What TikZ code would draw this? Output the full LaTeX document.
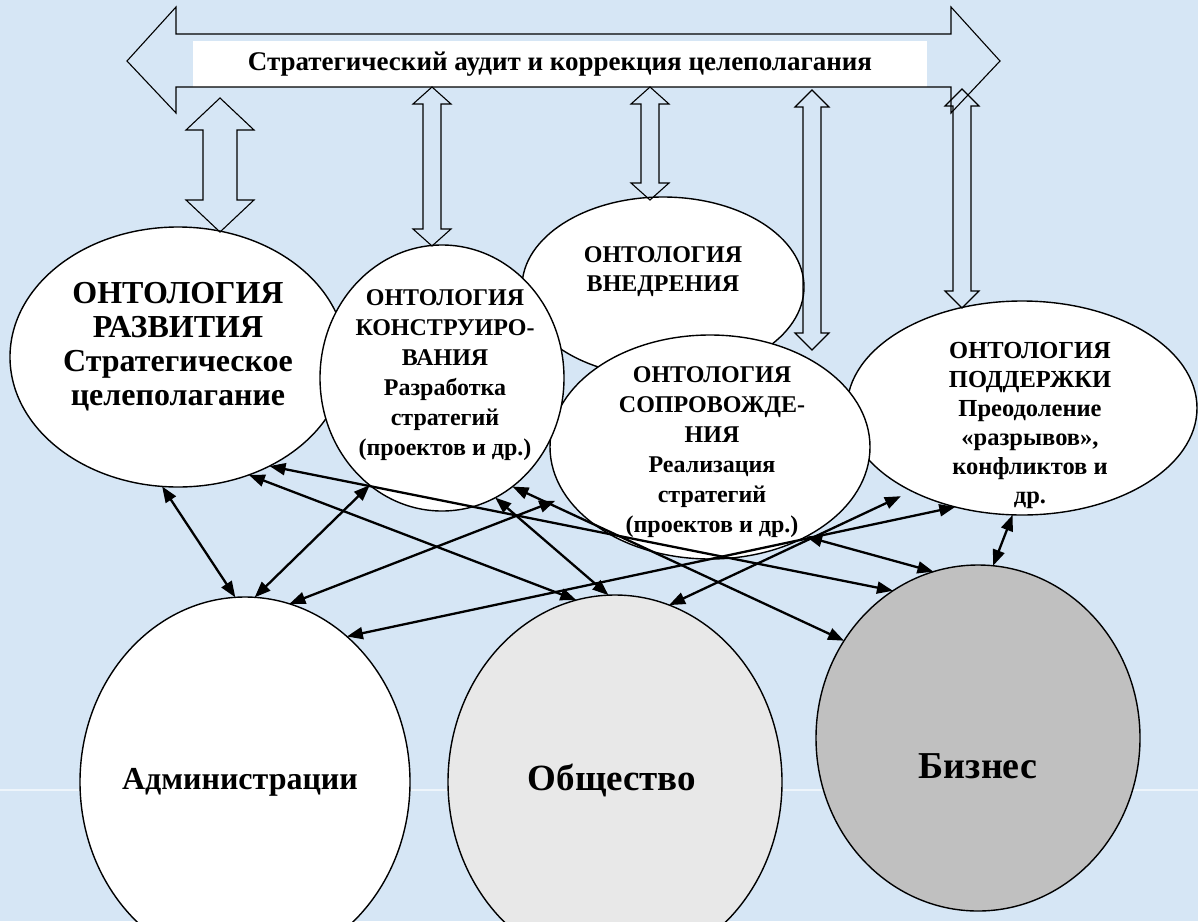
\documentclass[tikz,border=0pt]{standalone}
\usepackage{fontspec}
\setmainfont{Liberation Serif}
\usetikzlibrary{shapes.geometric,arrows.meta}
\definecolor{slide}{RGB}{214,230,245}
\definecolor{society}{RGB}{232,232,232}
\definecolor{business}{RGB}{192,192,192}

\begin{document}
\begin{tikzpicture}[x=1pt,y=-1pt,
  onto/.style={ellipse,draw,line width=1.4pt,fill=white,inner sep=0pt,outer sep=0pt},
  ontext/.style={align=center,font=\bfseries\fontsize{24}{30}\selectfont},
  blockarrow/.style={draw,line width=1.1pt,line join=miter},
  link/.style={line width=2.3pt},
  >={Triangle[length=16pt,width=12pt]}]
\useasboundingbox (0,0) rectangle (1198,921);
\fill[slide] (0,0) rectangle (1198,921);
\draw[white,line width=1.5pt,opacity=.6] (0,790) -- (1198,790);

\node[fill=white,minimum width=734pt,minimum height=46pt,inner sep=0pt,
  font=\bfseries\fontsize{27}{30}\selectfont] (audit) at (560,64)
  {Стратегический аудит и коррекция целеполагания};
\draw[blockarrow] (127,61) -- (176,7) -- (176,34) -- (951,34) -- (951,7) -- (1000,61)
  -- (951,113) -- (951,87) -- (176,87) -- (176,113) -- cycle;

\node[onto,minimum width=336pt,minimum height=260pt] (razv) at (178,357) {};
\node[onto,minimum width=350pt,minimum height=214pt] (podd) at (1022,408) {};
\node[onto,minimum width=282pt,minimum height=180pt] (vnedr) at (663,287) {};
\node[onto,minimum width=320pt,minimum height=224pt] (sopr) at (710,447) {};
\node[onto,minimum width=244pt,minimum height=266pt] (konstr) at (442,378) {};

\node[ontext,font=\bfseries\fontsize{32}{34}\selectfont] (razvT) at (178,347)
  {ОНТОЛОГИЯ\\РАЗВИТИЯ\\Стратегическое\\целеполагание};
\node[ontext] (konstrT) at (445,375)
  {ОНТОЛОГИЯ\\КОНСТРУИРО-\\ВАНИЯ\\Разработка\\стратегий\\(проектов и др.)};
\node[ontext,font=\bfseries\fontsize{24}{29}\selectfont] (vnedrT) at (663,272)
  {ОНТОЛОГИЯ\\ВНЕДРЕНИЯ};
\node[ontext] (soprT) at (712,452)
  {ОНТОЛОГИЯ\\СОПРОВОЖДЕ-\\НИЯ\\Реализация\\стратегий\\(проектов и др.)};
\node[ontext,font=\bfseries\fontsize{24.5}{29}\selectfont] (poddT) at (1030,425)
  {ОНТОЛОГИЯ\\ПОДДЕРЖКИ\\Преодоление\\«разрывов»,\\конфликтов и\\др.};

\foreach \x/\ya/\yb/\s/\h/\l in {220/98/232/17/34/32, 432/87/246/9/19/17,
    650/87/200/9/19/17, 812/90/350/9/17/17, 962/89/308/9/17/17}
  \draw[blockarrow] (\x,\ya) -- (\x+\h,\ya+\l) -- (\x+\s,\ya+\l) -- (\x+\s,\yb-\l)
    -- (\x+\h,\yb-\l) -- (\x,\yb) -- (\x-\h,\yb-\l) -- (\x-\s,\yb-\l)
    -- (\x-\s,\ya+\l) -- (\x-\h,\ya+\l) -- cycle;

\node[onto,minimum width=330pt,minimum height=370pt] (adm) at (245,782) {};
\node[onto,fill=society,minimum width=334pt,minimum height=374pt] (soc) at (615,782) {};
\node[onto,fill=business,minimum width=324pt,minimum height=346pt] (biz) at (978,738) {};
\node[font=\bfseries\fontsize{32}{34}\selectfont] (admT) at (240,782) {Администрации};
\node[font=\bfseries\fontsize{37}{40}\selectfont] (socT) at (612,780) {Общество};
\node[font=\bfseries\fontsize{38}{42}\selectfont] (bizT) at (978,766) {Бизнес};

\path[<->,link]
  (razv.-97) edge (adm.93)
  (razv.-59) edge (soc.102)
  (razv.-50) edge (biz.120)
  (konstr.-124) edge (adm.87)
  (konstr.-66) edge (soc.92)
  (konstr.-57) edge (biz.144)
  (sopr.-43) edge (biz.105)
  (podd.-95) edge (biz.85)
  (podd.-124) edge (adm.55)
  ;
\path[<->,link]
  (adm.76) edge[shorten >=12pt] (sopr.-161)
  (soc.73) edge[shorten >=12pt] (podd.-143)
  ;
\end{tikzpicture}
\end{document}
